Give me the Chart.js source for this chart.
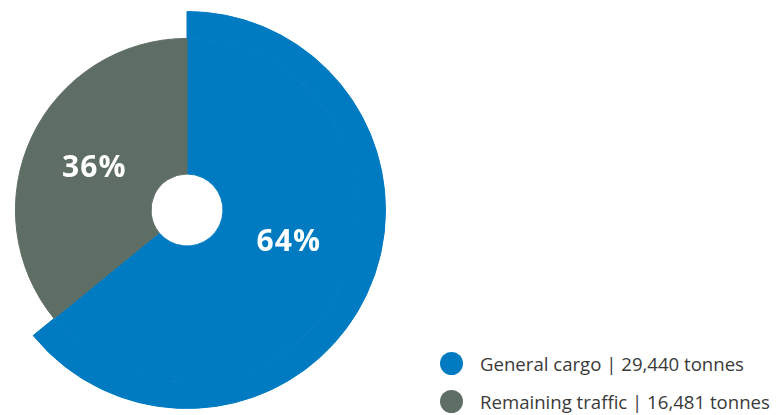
<!DOCTYPE html>
<html>
<head>
<meta charset="utf-8">
<script src="https://cdn.jsdelivr.net/npm/chart.js@4"></script>
<style>
  html, body { margin: 0; padding: 0; background: #fff; overflow: hidden; }
  body { width: 779px; height: 415px; position: relative; font-family: "Open Sans", "Noto Sans", sans-serif; }
  #chartBox { position: absolute; left: -12.5px; top: 11px; width: 398px; height: 398px; }
  #legend { position: absolute; left: 440px; top: 344px; }
  .lgRow { display: flex; align-items: center; height: 38px; color: #3a3a3a; font-size: 18.6px; white-space: nowrap; }
  .lgDot { width: 23px; height: 23px; border-radius: 50%; margin-right: 17px; flex: none; }
</style>
</head>
<body>
<div id="chartBox"><canvas id="c"></canvas></div>
<div id="legend"></div>
<script>
// data
const labels = ["General cargo", "Remaining traffic"];
const tonnes = [29440, 16481];
const colors = ["#007bc2", "#5e6e64"];

const total = tonnes.reduce((a, b) => a + b, 0);

// legend（HTML）
const legend = document.getElementById("legend");
labels.forEach((l, i) => {
  const row = document.createElement("div");
  row.className = "lgRow";
  const dot = document.createElement("span");
  dot.className = "lgDot";
  dot.style.background = colors[i];
  const txt = document.createElement("span");
  txt.textContent = `${l} | ${tonnes[i].toLocaleString("en-US")} tonnes`;
  row.appendChild(dot);
  row.appendChild(txt);
  legend.appendChild(row);
});

// 外側リング: 一番大きいスライスだけ見せる（はみ出し部分）
const outerColors = tonnes.map((v, i) => (v === Math.max(...tonnes) ? colors[i] : "rgba(0,0,0,0)"));

// % labels on the inner ring
const pctLabels = {
  id: "pctLabels",
  afterDatasetsDraw(chart, args, opts) {
    const ctx = chart.ctx;
    const meta = chart.getDatasetMeta(1);
    ctx.save();
    ctx.fillStyle = "#fff";
    ctx.font = "bold 30px 'Open Sans', 'Noto Sans', sans-serif";
    ctx.letterSpacing = "1px";
    ctx.textAlign = "center";
    ctx.textBaseline = "middle";
    meta.data.forEach((arc, i) => {
      const p = arc.tooltipPosition();
      const sh = (opts.shift && opts.shift[i]) || [0, 0];
      ctx.fillText(Math.round(tonnes[i] / total * 100) + "%", p.x + sh[0], p.y + sh[1]);
    });
    ctx.restore();
  }
};

new Chart(document.getElementById("c"), {
  type: "doughnut",
  data: {
    labels,
    datasets: [
      {
        data: tonnes,
        backgroundColor: outerColors,
        borderColor: outerColors,
        borderWidth: 1,
        weight: 27,
      },
      {
        data: tonnes,
        backgroundColor: colors,
        borderColor: colors,
        borderWidth: 1,
        weight: 136,
      },
    ],
  },
  options: {
    responsive: true,
    maintainAspectRatio: false,
    animation: false,
    cutout: 36,
    layout: { padding: 0 },
    plugins: {
      legend: { display: false },
      tooltip: { enabled: false },
      pctLabels: { shift: [[8, -12], [1, 3]] },
    },
  },
  plugins: [pctLabels],
});
</script>
</body>
</html>
